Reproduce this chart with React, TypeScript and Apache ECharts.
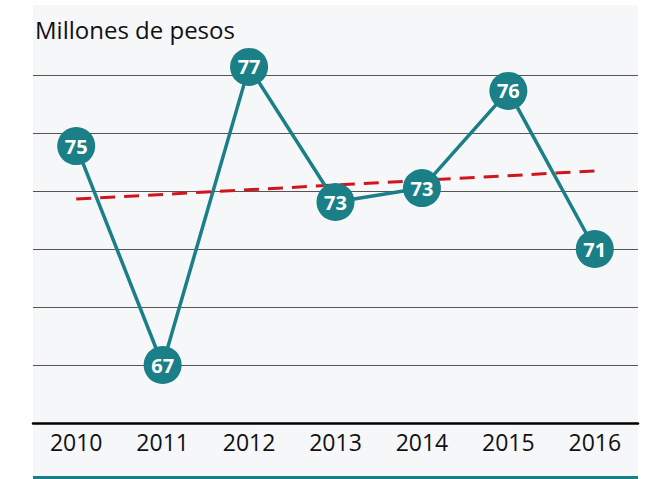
import React, { useEffect, useRef } from "react";
import * as echarts from "echarts";

const years = ["2010", "2011", "2012", "2013", "2014", "2015", "2016"];
const values = [74.55, 67.0, 77.28, 72.62, 73.1, 76.45, 71.0];
const labels = ["75", "67", "77", "73", "73", "76", "71"];
const trend = [72.72, null, null, null, null, null, 73.69];
const title = "Millones de pesos";

export default function App() {
  const ref = useRef<HTMLDivElement>(null);
  useEffect(() => {
    const chart = echarts.init(ref.current!, null, { renderer: "svg" });
    const font = "'Open Sans', 'Noto Sans', sans-serif";
    chart.setOption({
      animation: false,
      backgroundColor: "#ffffff",
      textStyle: { fontFamily: font },
      graphic: [
        {
          type: "rect",
          z: -10,
          shape: { x: 33, y: 5, width: 605, height: 474 },
          style: { fill: "#f6f7f9" },
        },
        {
          type: "rect",
          z: 10,
          shape: { x: 33, y: 476, width: 605, height: 3 },
          style: { fill: "#1a7f86" },
        },
        {
          type: "text",
          x: 35,
          y: 17,
          style: { text: title, fill: "#111", font: `24px ${font}` },
        },
      ],
      grid: { left: 33, right: 8, top: 75, bottom: 56 },
      xAxis: {
        type: "category",
        data: years,
        boundaryGap: true,
        axisLine: { lineStyle: { color: "#000", width: 2.5 } },
        axisTick: { show: false },
        axisLabel: { color: "#111", fontSize: 23, margin: 7, fontFamily: font },
      },
      yAxis: {
        type: "value",
        min: 65,
        max: 77,
        interval: 2,
        axisLabel: { show: false },
        axisLine: { show: false },
        axisTick: { show: false },
        splitLine: { lineStyle: { color: "#555", width: 1 } },
      },
      series: [
        {
          type: "line",
          data: trend,
          connectNulls: true,
          symbol: "none",
          clip: false,
          lineStyle: { color: "#d0161d", width: 3, type: [15, 9] },
          z: 2,
        },
        {
          type: "line",
          data: values,
          clip: false,
          symbol: "circle",
          symbolSize: 38,
          itemStyle: { color: "#1a7f86" },
          lineStyle: { color: "#1a7f86", width: 3.5 },
          label: {
            show: true,
            position: "inside",
            color: "#fff",
            fontWeight: "bold",
            fontSize: 20,
            fontFamily: font,
            formatter: (p: any) => labels[p.dataIndex],
          },
          z: 3,
        },
      ],
    });
    return () => chart.dispose();
  }, []);
  return <div ref={ref} style={{ width: 646, height: 479, position: "absolute", left: 0, top: 0 }} />;
}
